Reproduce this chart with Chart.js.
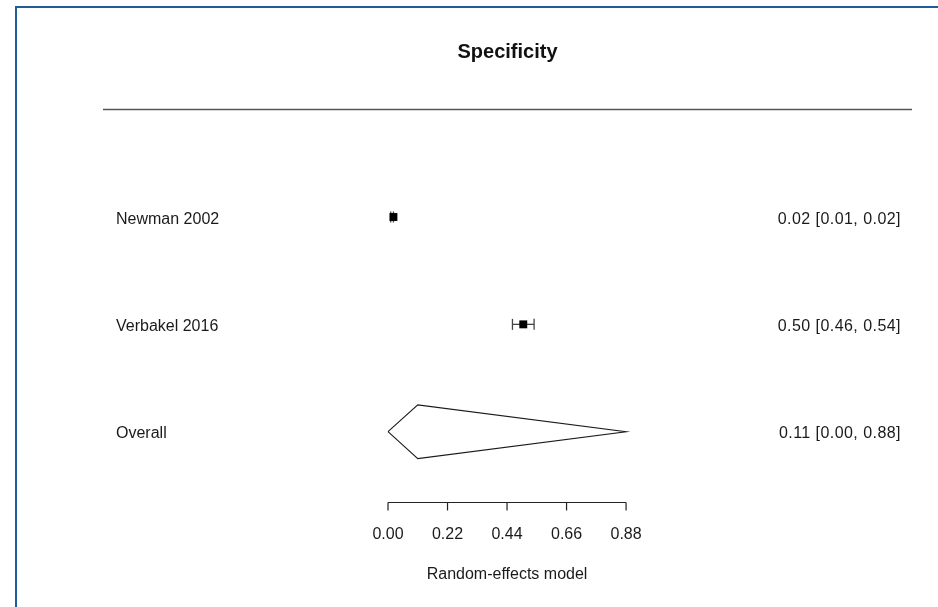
<!DOCTYPE html>
<html>
<head>
<meta charset="utf-8">
<script src="https://cdn.jsdelivr.net/npm/chart.js@4/dist/chart.umd.min.js"></script>
<style>
  html, body { margin: 0; padding: 0; background: #ffffff; }
  #wrap { position: relative; width: 938px; height: 607px; overflow: hidden; }
  #frame { position: absolute; left: 15px; top: 6px; right: -4px; bottom: -4px;
           border-left: 2px solid #1f5d96; border-top: 2px solid #1f5d96; pointer-events: none; }
  canvas { position: absolute; left: 0; top: 0; }
</style>
</head>
<body>
<div id="wrap">
  <canvas id="c" width="938" height="607"></canvas>
  <div id="frame"></div>
</div>
<script>
// ---- data ----
const chartTitle = 'Specificity';
const studies = ['Newman 2002', 'Verbakel 2016'];
const estimates = [0.02, 0.50];
const lowerCI = [0.01, 0.46];
const upperCI = [0.02, 0.54];
const studyRows = [3, 2];
const overallLabel = 'Overall';
const overallEstimate = [0.11];
const overallLower = [0.00];
const overallUpper = [0.88];
const overallRow = 1;
const xTicks = [0.00, 0.22, 0.44, 0.66, 0.88];
const xTitle = 'Random-effects model';

// ---- styles ----
const textColor = '#1a1a1a';
const diamondHalf = 0.25;
const fmt = v => v.toFixed(2);
const ciText = (e, l, u) => fmt(e) + ' [' + fmt(l) + ', ' + fmt(u) + ']';

const squares = {
  label: 'estimates',
  type: 'scatter',
  data: studies.map((s, i) => ({ x: estimates[i], y: studyRows[i] })),
  pointStyle: 'rect',
  pointRadius: 5.6,
  pointHoverRadius: 5.6,
  backgroundColor: '#000000',
  borderColor: '#000000',
  borderWidth: 0
};

const ciSets = studies.map((s, i) => ({
  label: s + ' CI',
  type: 'line',
  data: [{ x: lowerCI[i], y: studyRows[i] }, { x: upperCI[i], y: studyRows[i] }],
  showLine: true,
  borderColor: '#444444',
  borderWidth: 1.3,
  pointStyle: 'line',
  rotation: 90,
  pointRadius: 5.5,
  pointHoverRadius: 5.5,
  pointBorderColor: '#444444',
  pointBorderWidth: 1.3,
  fill: false,
  tension: 0
}));

const diamond = {
  label: overallLabel,
  type: 'line',
  data: [
    { x: overallLower[0], y: overallRow },
    { x: overallEstimate[0], y: overallRow + diamondHalf },
    { x: overallUpper[0], y: overallRow },
    { x: overallEstimate[0], y: overallRow - diamondHalf },
    { x: overallLower[0], y: overallRow }
  ],
  showLine: true,
  borderColor: '#1a1a1a',
  borderWidth: 1.1,
  pointRadius: 0,
  fill: false,
  tension: 0
};

const forestText = {
  id: 'forestText',
  afterDraw(chart) {
    const ctx = chart.ctx;
    const xs = chart.scales.x, ys = chart.scales.y;
    const area = chart.chartArea;
    ctx.save();
    // header rule
    ctx.strokeStyle = '#555555';
    ctx.lineWidth = 1.5;
    ctx.beginPath();
    ctx.moveTo(area.left, area.top + 0.5);
    ctx.lineTo(area.right, area.top + 0.5);
    ctx.stroke();
    // title
    ctx.fillStyle = '#111111';
    ctx.font = 'bold 20px "Liberation Sans", Arial, sans-serif';
    ctx.textAlign = 'center';
    ctx.textBaseline = 'alphabetic';
    ctx.fillText(chartTitle, (area.left + area.right) / 2, 58);
    // row labels
    ctx.font = '16px "Liberation Sans", Arial, sans-serif';
    ctx.fillStyle = textColor;
    const leftX = 116, rightX = 901;
    const drawRight = (txt, y) => {
      ctx.letterSpacing = '0.45px';
      ctx.textAlign = 'right';
      ctx.fillText(txt, rightX, y);
      ctx.letterSpacing = '0px';
    };
    studies.forEach((s, i) => {
      const py = ys.getPixelForValue(studyRows[i]) + 6.5;
      ctx.textAlign = 'left';
      ctx.fillText(s, leftX, py);
      drawRight(ciText(estimates[i], lowerCI[i], upperCI[i]), py);
    });
    const oy = ys.getPixelForValue(overallRow) + 6.5;
    ctx.textAlign = 'left';
    ctx.fillText(overallLabel, leftX, oy);
    drawRight(ciText(overallEstimate[0], overallLower[0], overallUpper[0]), oy);
    // x axis
    const ay = Math.round(area.bottom) - 0.5;
    const x0 = xs.getPixelForValue(xTicks[0]);
    const x1 = xs.getPixelForValue(xTicks[xTicks.length - 1]);
    ctx.strokeStyle = '#222222';
    ctx.lineWidth = 1.2;
    ctx.beginPath();
    ctx.moveTo(x0, ay);
    ctx.lineTo(x1, ay);
    xTicks.forEach(t => {
      const px = xs.getPixelForValue(t);
      ctx.moveTo(px, ay);
      ctx.lineTo(px, ay + 8);
    });
    ctx.stroke();
    ctx.textAlign = 'center';
    xTicks.forEach(t => {
      ctx.fillText(fmt(t), xs.getPixelForValue(t), ay + 36.5);
    });
    ctx.fillText(xTitle, (x0 + x1) / 2, ay + 76.5);
    ctx.restore();
  }
};

new Chart(document.getElementById('c'), {
  type: 'scatter',
  data: { datasets: [squares, ...ciSets, diamond] },
  options: {
    responsive: false,
    animation: false,
    devicePixelRatio: 1,
    layout: { padding: { left: 103, right: 26, top: 109, bottom: 104 } },
    plugins: { legend: { display: false }, tooltip: { enabled: false }, title: { display: false } },
    scales: {
      x: { type: 'linear', display: false, min: -1.0536, max: 1.937 },
      y: { type: 'linear', display: false, min: 0.336, max: 4.006 }
    }
  },
  plugins: [forestText]
});
</script>
</body>
</html>
